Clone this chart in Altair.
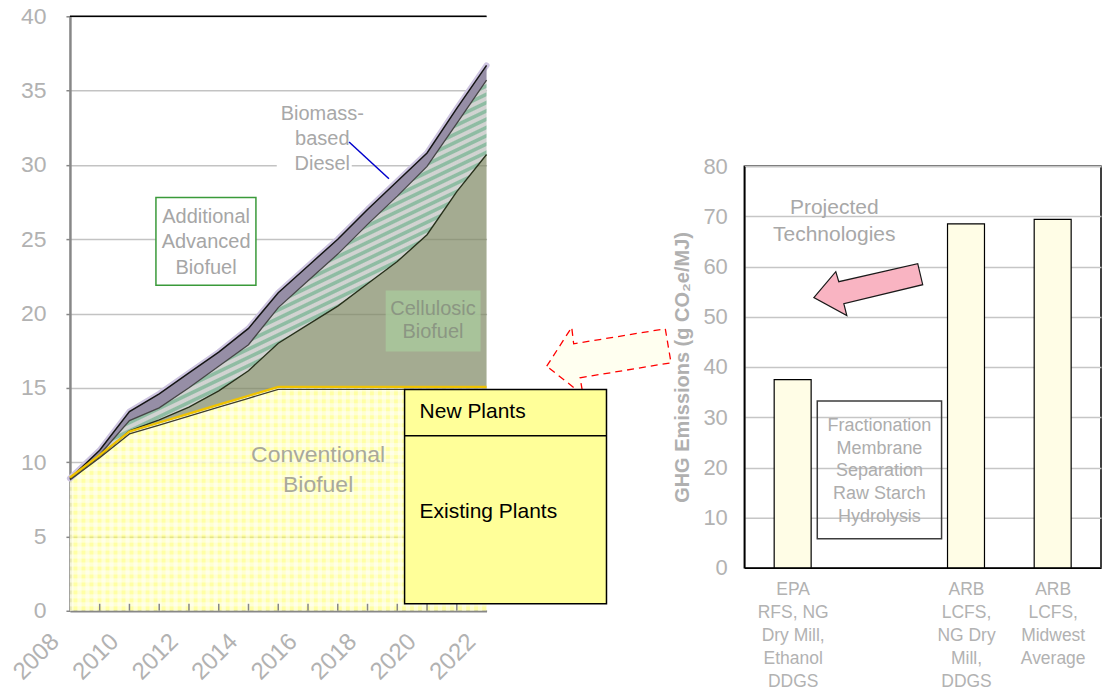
import json

import altair as alt
import pandas as pd

FONT = "Liberation Sans"
LABEL_GREY = "#b2b2b2"
AXIS_GREY = "#878787"

# ---------------------------------------------------------------------------
# Renewable fuel volumes (billion gallons), stacked from the bottom up
# ---------------------------------------------------------------------------
years = list(range(2008, 2023))
conventional = [8.9, 10.4, 12.0, 12.6, 13.2, 13.8, 14.4, 15.0, 15.0, 15.0, 15.0, 15.0, 15.0, 15.0, 15.0]
cellulosic = [0.0, 0.0, 0.1, 0.25, 0.5, 1.0, 1.75, 3.0, 4.25, 5.5, 7.0, 8.5, 10.3, 13.2, 15.7]
additional_advanced = [0.0, 0.1, 0.7, 0.8, 1.3, 1.65, 1.75, 2.4, 2.95, 3.5, 4.0, 4.4, 4.6, 4.6, 5.0]
biomass_diesel = [0.0, 0.3, 0.6, 0.95, 1.0, 0.95, 1.1, 1.0, 1.0, 1.0, 1.0, 1.0, 0.9, 1.0, 1.0]

year_ticks = list(range(2008, 2023, 2))
volume_ticks = list(range(0, 41, 5))

# ---------------------------------------------------------------------------
# GHG emissions of corn ethanol pathways (g CO2e/MJ); the empty slot holds
# the projected-technology note
# ---------------------------------------------------------------------------
ghg_labels = [
    ["EPA", "RFS, NG", "Dry Mill,", "Ethanol", "DDGS"],
    [],
    ["ARB", "LCFS,", "NG Dry", "Mill,", "DDGS"],
    ["ARB", "LCFS,", "Midwest", "Average"],
]
ghg_values = [37.5, None, 68.5, 69.4]
ghg_ticks = list(range(0, 81, 10))

# ---------------------------------------------------------------------------
# tables
# ---------------------------------------------------------------------------
vol = pd.DataFrame({
    "year": years,
    "conv": conventional,
    "cell": cellulosic,
    "adv": additional_advanced,
    "bbd": biomass_diesel,
})
vol["zero"] = 0.0
vol["conv_top"] = vol["conv"]
vol["cell_top"] = vol["conv_top"] + vol["cell"]
vol["adv_top"] = vol["cell_top"] + vol["adv"]
vol["total"] = vol["adv_top"] + vol["bbd"]

ghg = pd.DataFrame({
    "slot": [i + 0.5 for i, v in enumerate(ghg_values) if v is not None],
    "value": [v for v in ghg_values if v is not None],
})
slot_ticks = [i + 0.5 for i, lines in enumerate(ghg_labels) if lines]

one = pd.DataFrame({"n": [0]})


def stripe_stops(color_a, color_b, periods):
    """Soft-edged repeating stripes expressed as gradient stops."""
    stops = []
    step = 1.0 / periods
    for k in range(periods):
        base = k * step
        for frac, col in ((0.0, color_a), (0.38, color_a), (0.52, color_b), (0.86, color_b)):
            stops.append(alt.GradientStop(offset=round(base + frac * step, 5), color=col))
    stops.append(alt.GradientStop(offset=1.0, color=color_a))
    return stops


def stripes(color_a, color_b, periods, x2, y2):
    return alt.LinearGradient(
        gradient="linear", x1=0, y1=0, x2=x2, y2=y2,
        stops=stripe_stops(color_a, color_b, periods),
    )


def block_shift(text, line_height):
    """Offset that centres a multi-line text block on its anchor."""
    return -(text.count("\n")) * line_height / 2


# ---------------------------------------------------------------------------
# left panel: stacked volume areas
# ---------------------------------------------------------------------------
x_year = alt.Scale(domain=[2008, 2022], nice=False, zero=False)
y_vol = alt.Scale(domain=[0, 40], nice=False, zero=False)

x_axis_left = alt.Axis(
    values=year_ticks, format="d", title=None, grid=False, ticks=False,
    domainColor=AXIS_GREY, domainWidth=2.5,
    labelAngle=315, labelAlign="right", labelBaseline="middle",
    labelOffset=-15, labelPadding=27, labelFlush=False, labelOverlap=False,
    labelFont=FONT, labelFontSize=24, labelColor=LABEL_GREY,
)
y_axis_left = alt.Axis(
    values=volume_ticks, title=None, grid=True, gridColor="#c3c3c3", gridWidth=1.5,
    domainColor=AXIS_GREY, domainWidth=2.5, tickColor=AXIS_GREY, tickSize=4, tickWidth=1.5,
    labelFont=FONT, labelFontSize=23, labelColor=LABEL_GREY, labelPadding=20,
)


def xq():
    return alt.X("year:Q", scale=x_year, axis=x_axis_left)


def yq(field):
    return alt.Y(f"{field}:Q", scale=y_vol, axis=y_axis_left)


def xd(v):
    return alt.X(datum=v, scale=x_year, axis=x_axis_left)


def yd(v):
    return alt.Y(datum=v, scale=y_vol, axis=y_axis_left)


vbase = alt.Chart(vol)
obase = alt.Chart(one)

conv_fill = vbase.mark_area(color="#ffff5a", opacity=0.55).encode(
    x=xq(), y=yq("zero"), y2="conv_top:Q"
)
conv_cols = vbase.mark_area(
    color=stripes("rgba(255,255,255,0.5)", "rgba(255,255,255,0)", 52, 1, 0)
).encode(x=xq(), y=yq("zero"), y2="conv_top:Q")
conv_rows = vbase.mark_area(
    color=stripes("rgba(255,255,255,0.5)", "rgba(255,255,255,0)", 28, 0, 1)
).encode(x=xq(), y=yq("zero"), y2="conv_top:Q")

cell_fill = vbase.mark_area(color="#7e8862", opacity=0.7).encode(
    x=xq(), y=yq("conv_top"), y2="cell_top:Q"
)
halo = vbase.mark_line(color="#cdc4e0", strokeWidth=6, strokeJoin="round", strokeCap="round").encode(
    x=xq(), y=yq("total")
)
adv_fill = vbase.mark_area(color=stripes("#d1d3d1", "#8fbca3", 54, 0.45, 0.9)).encode(
    x=xq(), y=yq("cell_top"), y2="adv_top:Q"
)
bbd_fill = vbase.mark_area(color="#968ea6").encode(x=xq(), y=yq("adv_top"), y2="total:Q")

conv_under = vbase.mark_line(color="#3d3d30", strokeWidth=1.3, yOffset=1.5).encode(x=xq(), y=yq("conv_top"))
cell_line = vbase.mark_line(color="#27301a", strokeWidth=1.4).encode(x=xq(), y=yq("cell_top"))
adv_line = vbase.mark_line(color="#454545", strokeWidth=1.3).encode(x=xq(), y=yq("adv_top"))
total_line = vbase.mark_line(color="#151515", strokeWidth=1.5).encode(x=xq(), y=yq("total"))
conv_gold = vbase.mark_line(color="#f0c300", strokeWidth=2.3, yOffset=-1).encode(x=xq(), y=yq("conv_top"))

inner_ticks = alt.Chart(pd.DataFrame({"year": years[1:-1]})).mark_rule(
    color=AXIS_GREY, strokeWidth=1.5
).encode(x=xq(), y=yd(0), y2=alt.datum(0.47))
top_rule = obase.mark_rule(color="black", strokeWidth=1.5).encode(y=yd(40))


def box_left(x0, x1, y0, y1, **style):
    return obase.mark_rect(**style).encode(x=xd(x0), x2=alt.datum(x1), y=yd(y0), y2=alt.datum(y1))


def text_left(x, y, text, line_height=24, **style):
    return obase.mark_text(
        lineBreak="\n", font=FONT, lineHeight=line_height, dy=block_shift(text, line_height), **style
    ).encode(x=xd(x), y=yd(y), text=alt.value(text))


adv_box = box_left(2010.89, 2014.25, 27.81, 21.9, fill="white", stroke="#3a9a3a", strokeWidth=1.5)
adv_text = text_left(2012.575, 24.78, "Additional\nAdvanced\nBiofuel", 26, fontSize=20, color="#a6a6a6")
bbd_back = box_left(2014.95, 2017.47, 34.41, 29.16, fill="white")
bbd_text = text_left(2016.48, 31.72, "Biomass-\nbased\nDiesel", 25, fontSize=20, color="#a8a8a8")
bbd_leader = obase.mark_rule(color="#0000cc", strokeWidth=1.5).encode(
    x=xd(2017.38), x2=alt.datum(2018.72), y=yd(31.54), y2=alt.datum(29.07)
)
cell_box = box_left(2018.61, 2021.80, 21.55, 17.44, fill="#a9c99c", opacity=0.8)
cell_text = text_left(2020.2, 19.53, "Cellulosic\nBiofuel", 24, fontSize=20, color="#8b9683")
conv_text = text_left(2016.34, 9.49, "Conventional\nBiofuel", 30, fontSize=23, color="#a9a99b")

# hollow arrow pointing from the emissions panel back at the volume chart
hollow_arrow = obase.mark_point(
    shape="M -0.957 0.088 L -0.572 -0.512 L -0.542 -0.257 L 0.869 -0.488 "
          "L 0.957 0.035 L -0.443 0.266 L -0.398 0.529 Z",
    size=16900, filled=True, fill="#fffff0", stroke="#ff0000",
    strokeWidth=1.3, strokeDash=[7, 5], opacity=1,
).encode(x=xd(2026.11), y=yd(16.84))

plants_box = box_left(2019.245, 2026.03, 14.88, 0.47, fill="#ffff99", stroke="black", strokeWidth=1.5)
plants_split = obase.mark_rule(color="black", strokeWidth=1.5).encode(
    x=xd(2019.245), x2=alt.datum(2026.03), y=yd(11.78)
)
new_text = text_left(2019.75, 13.4, "New Plants", fontSize=21, color="black", align="left")
old_text = text_left(2019.75, 6.67, "Existing Plants", fontSize=21, color="black", align="left")

left = alt.layer(
    conv_fill, conv_cols, conv_rows, cell_fill, halo, adv_fill, bbd_fill,
    conv_under, cell_line, adv_line, total_line, conv_gold,
    inner_ticks, top_rule,
    adv_box, adv_text, bbd_back, bbd_text, bbd_leader, cell_box, cell_text, conv_text,
    hollow_arrow, plants_box, plants_split, new_text, old_text,
).properties(width=417, height=595, view=alt.ViewBackground(strokeOpacity=0))

# ---------------------------------------------------------------------------
# right panel: GHG emissions bars
# ---------------------------------------------------------------------------
x_slot = alt.Scale(domain=[0, len(ghg_labels)], nice=False, zero=False)
y_ghg = alt.Scale(domain=[0, 80], nice=False)

label_expr = "''"
for i, lines in reversed(list(enumerate(ghg_labels))):
    if lines:
        label_expr = f"floor(datum.value) == {i} ? {json.dumps(lines)} : ({label_expr})"

x_axis_right = alt.Axis(
    values=slot_ticks, title=None, grid=False, ticks=False,
    domainColor="black", domainWidth=1.5, labelExpr=label_expr,
    labelFont=FONT, labelFontSize=17.5, labelColor=LABEL_GREY, labelLineHeight=23,
    labelAngle=0, labelAlign="center", labelBaseline="top", labelPadding=13,
    labelFlush=False, labelOverlap=False,
)
y_axis_right = alt.Axis(
    values=ghg_ticks, title="GHG Emissions (g CO\u2082e/MJ)",
    titleFont=FONT, titleFontSize=20, titleFontWeight="bold", titleColor="#b0b0b0", titlePadding=10,
    grid=True, gridColor="#c6c6c6", gridWidth=1.5,
    domainColor="black", domainWidth=1.5, ticks=False,
    labelFont=FONT, labelFontSize=22, labelColor=LABEL_GREY, labelPadding=17,
)


def xs(v):
    return alt.X(datum=v, scale=x_slot, axis=x_axis_right)


def ys(v):
    return alt.Y(datum=v, scale=y_ghg, axis=y_axis_right)


def text_right(x, y, text, line_height, **style):
    return obase.mark_text(
        lineBreak="\n", font=FONT, lineHeight=line_height, dy=block_shift(text, line_height), **style
    ).encode(x=xs(x), y=ys(y), text=alt.value(text))


bars = alt.Chart(ghg).mark_bar(size=37, fill="#fffde6", stroke="black", strokeWidth=1.2).encode(
    x=alt.X("slot:Q", scale=x_slot, axis=x_axis_right),
    y=alt.Y("value:Q", scale=y_ghg, axis=y_axis_right),
)
tech_box = obase.mark_rect(fill="white", fillOpacity=0, stroke="#3c3c3c", strokeWidth=1.5).encode(
    x=xs(0.784), x2=alt.datum(2.218), y=ys(33.2), y2=alt.datum(5.8)
)
tech_text = text_right(1.501, 19.2, "Fractionation\nMembrane\nSeparation\nRaw Starch\nHydrolysis",
                       22.7, fontSize=18, color="#adadad")
proj_text = text_right(0.98, 69.0, "Projected\nTechnologies", 26.5, fontSize=21, color="#a8a8a8")
pink_arrow = obase.mark_point(
    shape="M -0.908 0.133 L -0.542 -0.3 L -0.492 -0.133 L 0.825 -0.433 "
          "L 0.908 -0.083 L -0.408 0.233 L -0.358 0.433 Z",
    size=14400, filled=True, fill="#f9b4c2", stroke="#1a1a1a", strokeWidth=1.2, opacity=1,
).encode(x=xs(1.3725), y=ys(55.4))

right = alt.layer(bars, tech_box, tech_text, proj_text, pink_arrow).properties(
    width=357, height=402, view=alt.ViewBackground(stroke="black", strokeWidth=1.5)
)

spacer = obase.mark_text().encode(text=alt.value("")).properties(
    width=357, height=150, view=alt.ViewBackground(strokeOpacity=0)
)

chart = alt.hconcat(
    left,
    alt.vconcat(spacer, right, spacing=0, bounds="flush"),
    spacing=258,
    bounds="flush",
).properties(padding={"left": 8, "top": 5, "right": 3, "bottom": 5})

chart.save("out.html", embed_options={"renderer": "svg", "actions": False})
